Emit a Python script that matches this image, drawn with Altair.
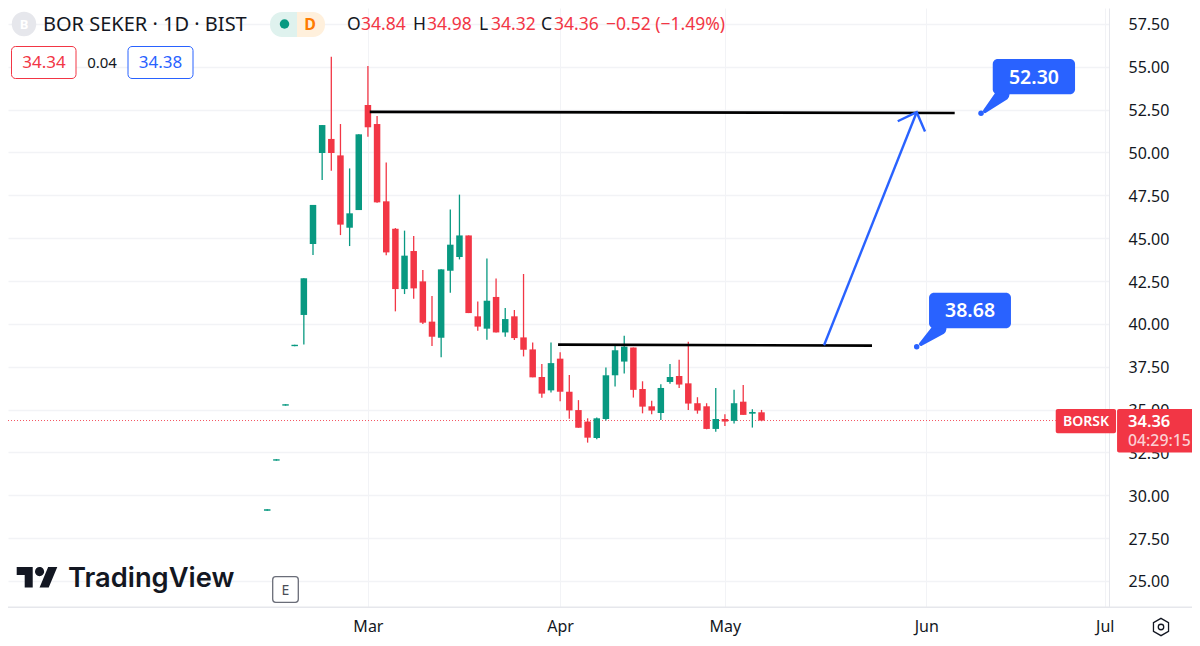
import altair as alt
import pandas as pd

# Candles: index, open, high, low, close
OPEN = [29.10,32.02,35.23,38.70,40.52,44.66,49.97,50.79,49.83,45.61,46.64,52.77,51.66,47.15,45.55,42.03,44.25,42.48,40.13,39.19,
        43.10,43.90,45.16,40.44,39.72,41.57,39.50,40.44,39.21,38.51,36.90,36.12,37.97,36.04,34.97,34.30,33.34,34.45,37.00,37.80,
        38.62,36.20,35.19,34.80,36.61,36.96,36.53,35.37,35.19,33.87,34.45,34.34,35.46,34.76,34.84]
HIGH = [29.18,32.10,35.31,38.78,42.66,46.94,51.60,55.59,51.66,49.07,51.06,55.05,52.13,49.41,45.59,45.44,45.13,43.14,41.62,43.18,
        46.68,47.54,45.16,41.31,43.82,42.65,40.92,40.81,42.91,38.92,37.66,38.92,38.34,37.01,35.55,34.49,34.53,37.45,38.75,39.30,
        38.62,36.65,35.52,36.48,37.66,37.90,38.95,35.72,35.37,36.26,34.72,36.16,36.44,35.02,34.98]
LOW = [29.10,32.02,35.23,38.70,38.80,44.02,48.39,48.94,45.18,44.54,46.64,50.92,47.07,44.00,40.73,41.74,41.47,39.99,38.71,38.05,
       41.82,43.76,40.63,39.60,39.08,39.50,39.25,39.06,38.10,36.88,35.69,36.00,35.48,34.47,33.94,33.07,33.27,34.36,36.34,37.10,
       35.70,34.78,34.72,34.39,36.51,36.26,34.98,34.76,33.85,33.71,34.04,34.18,34.69,33.95,34.32]
CLOSE = [29.18,32.10,35.31,38.78,42.66,46.94,51.60,49.97,45.79,46.45,51.06,51.47,47.09,44.17,42.03,43.98,42.07,40.07,39.25,43.18,
         44.62,45.16,40.63,39.84,41.35,39.50,40.28,39.17,38.49,36.88,35.93,37.71,36.04,34.95,33.94,33.36,34.49,37.00,38.46,38.67,
         36.15,35.17,34.94,36.26,36.90,36.46,35.35,34.94,33.87,34.45,34.30,35.37,34.69,34.86,34.36]
INDEX = list(range(len(OPEN)))

PRICE_TICKS = [25,27.5,30,32.5,35,37.5,40,42.5,45,47.5,50,52.5,55,57.5]
TIME_TICKS = [11,32,50,72,91.5]
TIME_LABELS = ["Mar","Apr","May","Jun","Jul"]
LAST_PRICE = 34.36

X_DOMAIN = [-28.32, 91.96]
Y_DOMAIN = [23.48, 58.43]

RED = "#f23645"; GREEN = "#089981"; BLUE = "#2962ff"; INK = "#131722"; GRID = "#f2f3f6"; EDGE = "#e6e7ec"
FONT = "Noto Sans"

df = pd.DataFrame(dict(i=INDEX, o=OPEN, h=HIGH, l=LOW, c=CLOSE))
df["col"] = [GREEN if c >= o else RED for o, c in zip(OPEN, CLOSE)]

label_map = "{" + ",".join(f"'{v}':'{t}'" for v, t in zip(TIME_TICKS, TIME_LABELS)) + "}"
XS = alt.Scale(domain=X_DOMAIN, nice=False, zero=False, padding=0)
YS = alt.Scale(domain=Y_DOMAIN, nice=False, zero=False)
XA = alt.Axis(values=TIME_TICKS, labelExpr=f"{label_map}[datum.value]", title=None, orient="bottom",
              grid=True, gridColor=GRID, gridWidth=1, ticks=False, domainColor=EDGE, domainWidth=1,
              labelFont=FONT, labelFontSize=16, labelColor=INK, labelPadding=11, labelFlush=False, labelOverlap=False)
YA = alt.Axis(values=PRICE_TICKS, format=".2f", title=None, orient="right",
              grid=True, gridColor=GRID, gridWidth=1.3, ticks=False, domainColor=EDGE, domainWidth=1,
              labelFont=FONT, labelFontSize=16, labelColor=INK, labelPadding=19, labelAlign="left", labelBaseline="middle", labelOffset=1)

def qx(name="i"): return alt.X(f"{name}:Q", scale=XS, axis=XA)
def qy(name="y"): return alt.Y(f"{name}:Q", scale=YS, axis=YA)

# last price line
last = alt.Chart(pd.DataFrame({"i":[X_DOMAIN[0]],"i2":[86.14],"y":[LAST_PRICE]})).mark_rule(color=RED, strokeDash=[1,2], strokeWidth=1, opacity=0.85).encode(
    x=qx(), x2="i2:Q", y=qy())

wicks = alt.Chart(df).mark_rule(strokeWidth=1.3).encode(x=qx(), y=qy("h"), y2="l:Q", color=alt.Color("col:N", scale=None))
bodies = alt.Chart(df).mark_bar(size=6.5, orient="vertical").encode(x=qx(), y=qy("o"), y2="c:Q", color=alt.Color("col:N", scale=None))

# drawn lines
BLACK_X = [[11.2,75.1],[31.77,66.07]]
BLACK_Y = [[52.37,52.30],[38.79,38.73]]
ARROW_SHAFT_X = [60.83,70.95]; ARROW_SHAFT_Y = [38.75,52.35]
ARROW_HEAD_X = [68.88,70.95,71.86]; ARROW_HEAD_Y = [51.82,52.35,51.22]

black_df = pd.DataFrame([dict(g=g,i=x,y=y) for g,(xs,ys) in enumerate(zip(BLACK_X,BLACK_Y)) for x,y in zip(xs,ys)])
black = alt.Chart(black_df).mark_line(color="#000000", strokeWidth=2.6).encode(x=qx(), y=qy(), detail="g:N")
shaft_df = pd.DataFrame(dict(i=ARROW_SHAFT_X,y=ARROW_SHAFT_Y))
head_df = pd.DataFrame(dict(i=ARROW_HEAD_X,y=ARROW_HEAD_Y,k=[0,1,2]))
shaft = alt.Chart(shaft_df).mark_line(color=BLUE, strokeWidth=2.4).encode(x=qx(), y=qy())
head = alt.Chart(head_df).mark_line(color=BLUE, strokeWidth=2.4).encode(x=qx(), y=qy(), order="k:Q")

# callouts
CALL_LABELS = ["52.30","38.68"]
CALL_X = [79.26,72.30]; CALL_X2 = [88.25,81.25]
CALL_Y = [55.46,41.82]; CALL_Y2 = [53.40,39.74]
CALL_TX = [83.76,76.78]; CALL_TY = [54.41,40.78]
TAIL_BASE_X = [80.33,73.44]; TAIL_BASE_Y = [53.40,39.74]
TAIL_TIP_X = [78.41,71.42]; TAIL_TIP_Y = [52.42,38.83]
DOT_X = [77.98,70.95]; DOT_Y = [52.29,38.67]

call_df = pd.DataFrame(dict(i=CALL_X,i2=CALL_X2,y=CALL_Y,y2=CALL_Y2,tx=CALL_TX,ty=CALL_TY,t=CALL_LABELS,dx=DOT_X,dy=DOT_Y))
call_rect = alt.Chart(call_df).mark_rect(color=BLUE, cornerRadius=5).encode(x=qx(), x2="i2:Q", y=qy(), y2="y2:Q")
call_text = alt.Chart(call_df).mark_text(color="white", font=FONT, fontSize=19.5, fontWeight=600, dy=1).encode(x=qx("tx"), y=qy("ty"), text="t:N")
call_dot = alt.Chart(call_df).mark_point(color=BLUE, filled=True, size=30, opacity=1).encode(x=qx("dx"), y=qy("dy"))
tail_rows = []
for g in range(2):
    tail_rows.append(dict(g=g,k=0,i=TAIL_BASE_X[g],y=TAIL_BASE_Y[g],w=14))
    tail_rows.append(dict(g=g,k=1,i=TAIL_TIP_X[g],y=TAIL_TIP_Y[g],w=4))
tails = alt.Chart(pd.DataFrame(tail_rows)).mark_trail(color=BLUE).encode(x=qx(), y=qy(), detail="g:N", order="k:Q", size=alt.Size("w:Q", scale=None, legend=None))

# last price tag
tag_df = pd.DataFrame(dict(i=[86.14,92.84],i2=[92.73,101.9],y=[35.03,35.03],y2=[33.62,32.49]))
tags = alt.Chart(tag_df).mark_rect(color=RED, cornerRadius=2).encode(x=qx(), x2="i2:Q", y=qy(), y2="y2:Q")

# page furniture, in pixels from plot origin
OFF = 8
def text(t, x, y, size=16, color=INK, align="left", weight=400, font=FONT):
    return alt.Chart(pd.DataFrame({"t":[t]})).mark_text(align=align, baseline="middle", fontSize=size, color=color, fontWeight=weight, font=font).encode(
        x=alt.value(x-OFF), y=alt.value(y-OFF+0.8), text="t:N")
def box(x, x2, y, y2, **kw):
    return alt.Chart(pd.DataFrame({"a":[0]})).mark_rect(**kw).encode(x=alt.value(x-OFF), x2=alt.value(x2-OFF), y=alt.value(y-OFF), y2=alt.value(y2-OFF))
def pt(x, y, size, **kw):
    return alt.Chart(pd.DataFrame({"a":[0]})).mark_point(size=size, opacity=1, **kw).encode(x=alt.value(x-OFF), y=alt.value(y-OFF))

LOGO = ("M-0.211 0.507H-0.606V-0.113H-1V-0.507H-0.211Z"
        "M0.577 0.507H0.127L0.549 -0.507H1Z"
        "M-0.098 -0.282A0.225 0.225 0 1 0 0.352 -0.282A0.225 0.225 0 1 0 -0.098 -0.282Z")

furn = [
    box(8,1200,606.5,608,color=EDGE),
    pt(24,24,600, shape="circle", filled=True, color=EDGE),
    text("B",24,24,13,"#ffffff","center",700),
    text("BOR SEKER · 1D · BIST",43,24,20),
    box(270,297,12,37,color="#dff2ee",cornerRadiusTopLeft=12,cornerRadiusBottomLeft=12),
    box(297,325,12,37,color="#fff0dc",cornerRadiusTopRight=12,cornerRadiusBottomRight=12),
    pt(284.5,24,90, shape="circle", filled=True, color=GREEN),
    text("D",310,24,16,"#ff7b00","center",700),
    text("O",347,24,17.5), text("34.84",361,24,17.5,RED),
    text("H",413,24,17.5), text("34.98",427,24,17.5,RED),
    text("L",479,24,17.5), text("34.32",491,24,17.5,RED),
    text("C",541,24,17.5), text("34.36",554,24,17.5,RED),
    text("−0.52 (−1.49%)",606,24,17.5,RED),
    box(11.5,76,46.5,78.5,fill="#ffffff",stroke=RED,strokeWidth=1,cornerRadius=4),
    text("34.34",44,62,17,RED,"center"),
    text("0.04",102,62,15,INK,"center"),
    box(128,193,46.5,78.5,fill="#ffffff",stroke=BLUE,strokeWidth=1,cornerRadius=4),
    text("34.38",160.5,62,17,BLUE,"center"),
    pt(37,577.3,1648, shape=LOGO, filled=True, color=INK),
    text("TradingView",68,578.5,27.3,INK,"left",600,"Inter"),
    box(272.7,298.3,576.7,602.3,fill="#ffffff",stroke="#6a6d78",strokeWidth=1.3,cornerRadius=3),
    text("E",285.5,590,14,"#4a4d58","center"),
    text("BORSK",1086,421,14,"#ffffff","center",600),
    text("34.36",1128,421,16.5,"#ffffff","left",600),
    text("04:29:15",1128,440.5,15.8,"#fbd0d4","left",500),
    pt(1161,627,300, shape="M0 -1L0.87 -0.5V0.5L0 1L-0.87 0.5V-0.5Z", filled=False, color=INK, strokeWidth=1.3),
    pt(1161,627,30, shape="circle", filled=False, color=INK, strokeWidth=1.3),
]

chart = alt.layer(last, wicks, bodies, black, shaft, head, tails, call_rect, call_text, call_dot, tags, *furn).properties(
    width=1101, height=599, padding={"left":0,"top":0,"right":83,"bottom":31}, autosize=alt.AutoSizeParams(type="none"),
    background="#ffffff"
).configure_view(stroke=None)

chart.save("out.html", embed_options={"renderer": "svg", "actions": False})
